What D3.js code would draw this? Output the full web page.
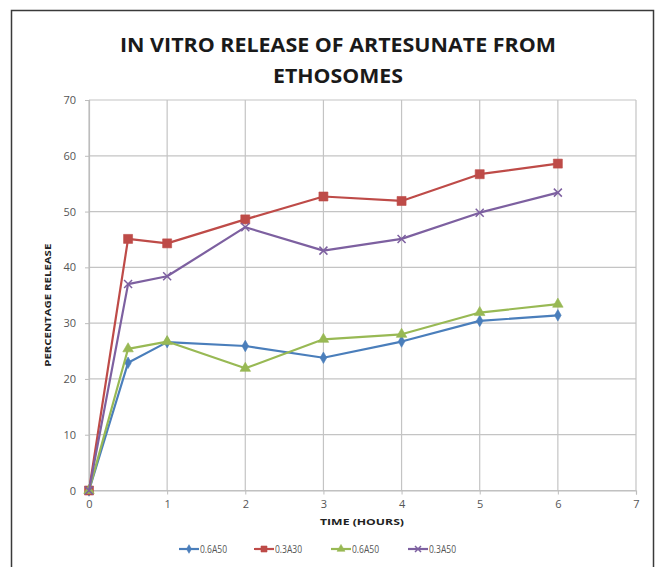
<!DOCTYPE html>
<html>
<head>
<meta charset="utf-8">
<script src="https://cdn.jsdelivr.net/npm/d3@7"></script>
<style>
  html, body { margin: 0; padding: 0; background: #ffffff; }
  svg { display: block; }
</style>
</head>
<body>
<svg id="chart" width="660" height="567"></svg>
<script>
// Release study data: time (hours) and cumulative percentage released
const hours = [0, 0.5, 1, 2, 3, 4, 5, 6];
const seriesNames = ["0.6A50", "0.3A30", "0.6A50", "0.3A50"];
const release06A50a = [0, 22.9, 26.6, 25.9, 23.8, 26.7, 30.4, 31.4];
const release03A30 = [0, 45.1, 44.3, 48.6, 52.7, 51.9, 56.7, 58.6];
const release06A50b = [0, 25.4, 26.7, 21.9, 27.1, 28.0, 31.9, 33.4];
const release03A50 = [0, 37.0, 38.4, 47.2, 43.0, 45.1, 49.8, 53.4];
const xTicks = [0, 1, 2, 3, 4, 5, 6, 7];
const yTicks = [0, 10, 20, 30, 40, 50, 60, 70];

const colors = ["#4a7ebb", "#be4b48", "#98b954", "#7d60a0"];
const symbols = ["diamond", "square", "triangle", "cross"];
const seriesValues = [release06A50a, release03A30, release06A50b, release03A50];

const svg = d3.select("#chart");
const plot = { left: 89, right: 636, top: 100, bottom: 490.5 };

const x = d3.scaleLinear().domain([0, 7]).range([plot.left, plot.right]);
const y = d3.scaleLinear().domain([0, 70]).range([plot.bottom, plot.top]);

// outer chart frame
svg.append("rect")
  .attr("x", 11.5).attr("y", 10.5)
  .attr("width", 642).attr("height", 570)
  .attr("fill", "#ffffff")
  .attr("stroke", "#3a3a3a").attr("stroke-width", 1.5);

// title
const title = svg.append("text")
  .attr("text-anchor", "middle")
  .attr("font-family", "'Open Sans', 'DejaVu Sans', sans-serif")
  .attr("font-weight", "bold")
  .attr("font-size", 20)
  .attr("fill", "#1a1a1a");
title.append("tspan").attr("x", 338).attr("y", 52)
  .attr("textLength", 436).attr("lengthAdjust", "spacingAndGlyphs")
  .text("IN VITRO RELEASE OF ARTESUNATE FROM");
title.append("tspan").attr("x", 338).attr("y", 83)
  .attr("textLength", 130).attr("lengthAdjust", "spacingAndGlyphs")
  .text("ETHOSOMES");

// gridlines
const grid = svg.append("g").attr("stroke", "#c4c4c4").attr("stroke-width", 1.2);
grid.selectAll("line.h").data(yTicks).join("line")
  .attr("x1", plot.left).attr("x2", plot.right)
  .attr("y1", d => y(d)).attr("y2", d => y(d));
grid.selectAll("line.v").data(xTicks).join("line")
  .attr("y1", plot.top).attr("y2", plot.bottom)
  .attr("x1", d => x(d)).attr("x2", d => x(d));

// axes
const yAxis = svg.append("g")
  .attr("transform", `translate(${plot.left},0)`)
  .call(d3.axisLeft(y).tickValues(yTicks).tickFormat(d3.format("d")).tickSize(4).tickPadding(6));
const xAxis = svg.append("g")
  .attr("transform", `translate(0,${plot.bottom})`)
  .call(d3.axisBottom(x).tickValues(xTicks).tickFormat(d3.format("d")).tickSize(4).tickPadding(6));
[yAxis, xAxis].forEach(a => {
  a.select(".domain").attr("stroke", "#bdbdbd").attr("stroke-width", 1.2);
  a.selectAll(".tick line").attr("stroke", "#bdbdbd");
  a.selectAll(".tick text")
    .attr("font-family", "'Open Sans', 'DejaVu Sans', sans-serif")
    .attr("font-size", 11)
    .attr("fill", "#555555");
});
yAxis.selectAll(".tick text").attr("dx", -3);

// axis titles
svg.append("text")
  .attr("transform", `translate(51,${(plot.top + plot.bottom) / 2 + 10}) rotate(-90)`)
  .attr("text-anchor", "middle")
  .attr("font-family", "'Open Sans', 'DejaVu Sans', sans-serif")
  .attr("font-weight", "bold").attr("font-size", 9)
  .attr("textLength", 123).attr("lengthAdjust", "spacingAndGlyphs")
  .attr("fill", "#222222")
  .text("PERCENTAGE RELEASE");
svg.append("text")
  .attr("x", 362).attr("y", 525)
  .attr("text-anchor", "middle")
  .attr("font-family", "'Open Sans', 'DejaVu Sans', sans-serif")
  .attr("font-weight", "bold").attr("font-size", 9)
  .attr("textLength", 84).attr("lengthAdjust", "spacingAndGlyphs")
  .attr("fill", "#222222")
  .text("TIME (HOURS)");

// marker drawing
function drawMarker(g, kind, color, size) {
  if (kind === "cross") {
    const s = size / 2;
    g.append("path")
      .attr("d", `M${-s},${-s}L${s},${s}M${-s},${s}L${s},${-s}`)
      .attr("stroke", color).attr("stroke-width", 1.5).attr("fill", "none");
  } else {
    const sym = kind === "diamond" ? d3.symbolDiamond
      : kind === "square" ? d3.symbolSquare : d3.symbolTriangle;
    const area = kind === "diamond" ? size * size * 0.6
      : kind === "square" ? size * size : size * size * 0.75;
    g.append("path")
      .attr("d", d3.symbol(sym, area)())
      .attr("fill", color).attr("stroke", color).attr("stroke-width", 0.6);
  }
}

const line = d3.line().x(d => x(d[0])).y(d => y(d[1]));
seriesValues.forEach((vals, i) => {
  const pts = hours.map((h, k) => [h, vals[k]]);
  const g = svg.append("g");
  g.append("path")
    .attr("d", line(pts))
    .attr("fill", "none")
    .attr("stroke", colors[i])
    .attr("stroke-width", 2.2)
    .attr("stroke-linejoin", "round");
  pts.forEach(p => {
    const m = g.append("g").attr("transform", `translate(${x(p[0])},${y(p[1])})`);
    drawMarker(m, symbols[i], colors[i], i === 1 ? 9 : 8);
  });
});

// legend
const legendX = [179, 254, 331, 408];
const legendY = 549;
seriesNames.forEach((name, i) => {
  const g = svg.append("g").attr("transform", `translate(${legendX[i]},${legendY})`);
  g.append("line").attr("x1", 0).attr("x2", 20).attr("y1", 0).attr("y2", 0)
    .attr("stroke", colors[i]).attr("stroke-width", 2.2);
  const m = g.append("g").attr("transform", "translate(10,0)");
  drawMarker(m, symbols[i], colors[i], 6);
  g.append("text")
    .attr("x", 21).attr("y", 3.5)
    .attr("font-family", "'Open Sans', 'DejaVu Sans', sans-serif")
    .attr("font-size", 10).attr("fill", "#555555")
    .attr("textLength", 27).attr("lengthAdjust", "spacingAndGlyphs")
    .text(name);
});
</script>
</body>
</html>
